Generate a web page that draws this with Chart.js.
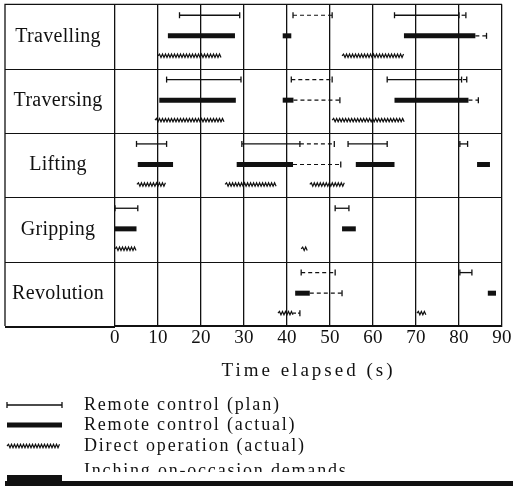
<!DOCTYPE html>
<html>
<head>
<meta charset="utf-8">
<script src="https://cdn.jsdelivr.net/npm/chart.js@4/dist/chart.umd.min.js"></script>
<style>
  html, body { margin: 0; padding: 0; background: #fff; }
</style>
</head>
<body>
<canvas id="chart" width="513" height="488"></canvas>
<script>
const operations = ["Travelling", "Traversing", "Lifting", "Gripping", "Revolution"];
const timeTicks = [0, 10, 20, 30, 40, 50, 60, 70, 80, 90];

// every entry: [row, start (s), end (s)]
const planSolid = [
    [0, 15, 29], [0, 65, 80],
    [1, 12, 29.3], [1, 63.3, 80.6],
    [2, 5, 12], [2, 29.5, 43], [2, 54.2, 63.3], [2, 80.2, 82],
    [3, 0, 5.3], [3, 51.2, 54.4],
    [4, 80.2, 83]
];
const planDashed = [[0, 41.4, 50.5], [1, 41, 50.5], [4, 43.3, 51.2]];
const planTails = [[0, 80.6, 81.6], [1, 80.9, 81.8], [2, 43, 51]];
const actualBars = [
    [0, 12.3, 27.9], [0, 39, 41], [0, 67.2, 83.8],
    [1, 10.3, 28.1], [1, 39, 41.5], [1, 65, 82.2],
    [2, 5.3, 13.5], [2, 28.3, 41.4], [2, 56, 65], [2, 84.2, 87.2],
    [3, 0, 5], [3, 52.8, 56],
    [4, 41.9, 45.3], [4, 86.7, 88.6]
];
const actualTails = [[0, 83.8, 86.4], [1, 41.5, 52.3], [1, 82.2, 84.5], [2, 41.4, 52.5], [4, 45.3, 52.8]];
const directOps = [
    [0, 10, 24.9], [0, 52.8, 67.4],
    [1, 9.3, 25.6], [1, 50.5, 67.4],
    [2, 5.1, 12], [2, 25.6, 37.7], [2, 45.3, 53.5],
    [3, 0, 4.9], [3, 43.3, 45],
    [4, 37.9, 41.4], [4, 70.2, 72.3]
];
const directTails = [[4, 41.4, 43]];

const legendLabels = [
    "Remote control (plan)",
    "Remote control (actual)",
    "Direct operation (actual)",
    "Inching on-occasion demands"
];

// lane of each kind of mark inside a row
const PLAN = 0.17, ACTUAL = 0.49, DIRECT = 0.8;
const ink = "#111";
const serif = "'Liberation Serif', serif";

function segments(list, lane, style) {
    return list.map(([row, a, b]) => Object.assign({
        data: [{ x: a, y: row + lane }, { x: b, y: row + lane }],
        borderColor: ink,
        backgroundColor: ink,
        pointBorderColor: ink,
        pointStyle: "line",
        pointRotation: 90,
        pointRadius: 0,
        pointHoverRadius: 0,
        borderCapStyle: "butt",
        tension: 0,
        clip: false
    }, style));
}

const tick = { pointRadius: 3, pointBorderWidth: 1.3 };
const datasets = [
    ...segments(planSolid, PLAN, { borderWidth: 1.3, ...tick }),
    ...segments(planDashed, PLAN, { borderWidth: 1.2, borderDash: [4, 3], ...tick }),
    ...segments(planTails, PLAN, { borderWidth: 1.2, borderDash: [4, 3], pointBorderWidth: 1.3, pointRadius: [0, 3] }),
    ...segments(actualBars, ACTUAL, { borderWidth: 5 }),
    ...segments(actualTails, ACTUAL, { borderWidth: 1.2, borderDash: [4, 3], pointBorderWidth: 1.3, pointRadius: [0, 3] }),
    ...segments(directTails, DIRECT, { borderWidth: 1.2, borderDash: [3, 2], pointBorderWidth: 1.3, pointRadius: [0, 3] }),
    ...segments(directOps, DIRECT, { showLine: false, wavy: true })
];

function zigzag(ctx, x1, x2, y) {
    ctx.beginPath();
    ctx.moveTo(x1, y);
    let up = true;
    for (let x = x1 + 1.5; x <= x2; x += 1.5) {
        ctx.lineTo(x, y + (up ? -1.7 : 1.7));
        up = !up;
    }
    ctx.stroke();
}

// title is drawn before the datasets, tick labels (z: 1) after them
const spacing = {
    id: "spacing",
    beforeUpdate: chart => { chart.ctx.letterSpacing = "0.3px"; },
    beforeDraw: chart => { chart.ctx.letterSpacing = "3px"; }
};

// table frame: outer border of the label column and the row separators
const frame = {
    id: "frame",
    beforeDatasetsDraw(chart) {
        const { ctx, chartArea: a, scales: { y } } = chart;
        ctx.save();
        ctx.strokeStyle = ink;
        ctx.lineWidth = 1.3;
        ctx.beginPath();
        ctx.moveTo(5, a.bottom); ctx.lineTo(5, a.top); ctx.lineTo(a.right, a.top);
        ctx.stroke();
        ctx.lineWidth = 1;
        for (let i = 1; i < operations.length; i++) {
            const py = Math.round(y.getPixelForValue(i)) + 0.5;
            ctx.beginPath(); ctx.moveTo(5, py); ctx.lineTo(a.right, py); ctx.stroke();
        }
        ctx.lineWidth = 2;
        ctx.beginPath(); ctx.moveTo(5, a.bottom + 1); ctx.lineTo(a.left, a.bottom + 1); ctx.stroke();
        ctx.restore();
    },
    afterDatasetsDraw(chart) {
        const ctx = chart.ctx;
        ctx.save();
        ctx.strokeStyle = ink;
        ctx.lineWidth = 1.2;
        chart.data.datasets.forEach((ds, i) => {
            if (!ds.wavy) return;
            const pts = chart.getDatasetMeta(i).data;
            zigzag(ctx, pts[0].x, pts[1].x, pts[0].y);
        });
        ctx.restore();
        ctx.letterSpacing = "0.3px";
    }
};

const legend = {
    id: "legendBelow",
    afterDraw(chart) {
        const ctx = chart.ctx;
        const rows = [405, 425, 446, 471];
        ctx.save();
        ctx.strokeStyle = ink;
        ctx.fillStyle = ink;
        ctx.font = "18px " + serif;
        ctx.letterSpacing = "1.8px";
        ctx.textBaseline = "middle";
        legendLabels.forEach((t, i) => ctx.fillText(t, 84, rows[i]));

        ctx.lineWidth = 1.3;
        ctx.beginPath();
        ctx.moveTo(7, rows[0]); ctx.lineTo(62, rows[0]);
        ctx.moveTo(7, rows[0] - 3); ctx.lineTo(7, rows[0] + 3);
        ctx.moveTo(62, rows[0] - 3); ctx.lineTo(62, rows[0] + 3);
        ctx.stroke();
        ctx.lineWidth = 5;
        ctx.beginPath(); ctx.moveTo(7, rows[1]); ctx.lineTo(62, rows[1]); ctx.stroke();
        ctx.lineWidth = 1.2;
        zigzag(ctx, 7, 60, rows[2]);

        // the last entry is cut off by the bottom edge of the figure
        ctx.fillStyle = "#fff";
        ctx.fillRect(66, 472, 447, 10);
        ctx.fillStyle = ink;
        ctx.fillRect(7, 475, 55, 11);
        ctx.fillRect(5, 481, 508, 5);
        ctx.restore();
    }
};

new Chart(document.getElementById("chart"), {
    type: "line",
    data: { datasets },
    plugins: [spacing, frame, legend],
    options: {
        responsive: false,
        animation: false,
        events: [],
        devicePixelRatio: 1,
        layout: { padding: { left: 5, top: 3, right: 11, bottom: 102 } },
        plugins: { legend: { display: false }, tooltip: { enabled: false } },
        scales: {
            x: {
                type: "linear",
                min: 0,
                max: 90,
                afterBuildTicks: s => { s.ticks = timeTicks.map(v => ({ value: v })); },
                afterFit: s => { s.height = 60; },
                grid: { color: ink, lineWidth: 1.3, drawTicks: false },
                border: { color: ink, width: 2 },
                ticks: { color: ink, font: { family: serif, size: 19 }, padding: 1, maxRotation: 0, z: 1 },
                title: {
                    display: true,
                    text: "Time elapsed (s)",
                    color: ink,
                    font: { family: serif, size: 19 },
                    padding: { top: 4, bottom: 4 }
                }
            },
            y: {
                type: "linear",
                min: 0,
                max: operations.length,
                reverse: true,
                afterBuildTicks: s => { s.ticks = operations.map((_, i) => ({ value: i + 0.5 })); },
                afterFit: s => { s.width = 110; s.paddingTop = 0; s.paddingBottom = 0; },
                grid: { display: false, drawTicks: false },
                border: { display: false },
                ticks: {
                    color: ink,
                    font: { family: serif, size: 20 },
                    crossAlign: "center",
                    padding: 11,
                    z: 1,
                    callback: (v, i) => operations[i]
                }
            }
        }
    }
});
</script>
</body>
</html>
